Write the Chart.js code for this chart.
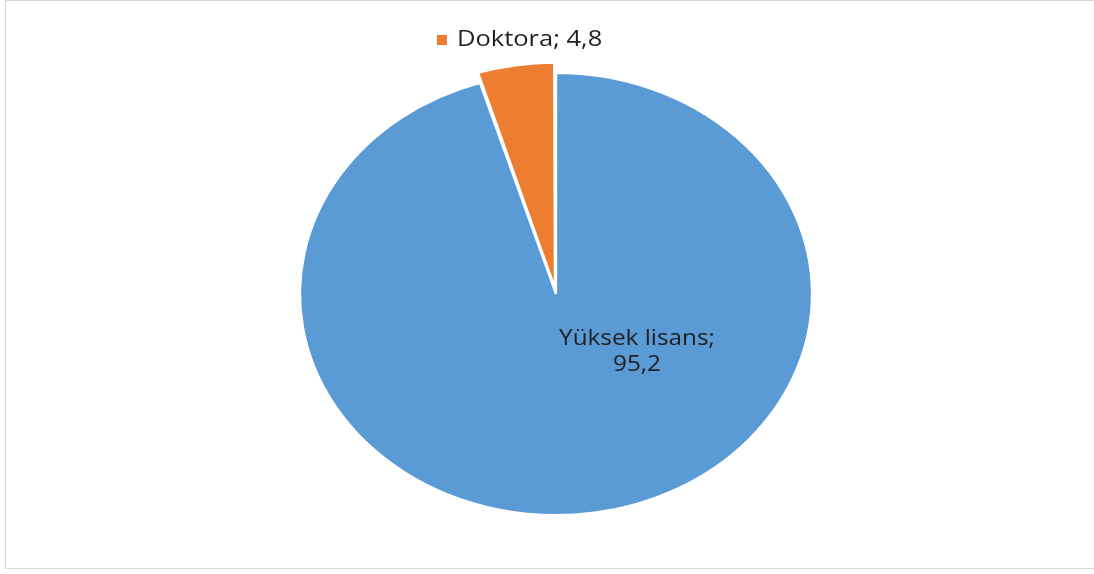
<!DOCTYPE html>
<html>
<head>
<meta charset="utf-8">
<script src="https://cdn.jsdelivr.net/npm/chart.js@4/dist/chart.umd.min.js"></script>
<style>
  html, body { margin: 0; padding: 0; background: #fff; }
  #wrap { position: relative; width: 1094px; height: 574px; }
</style>
</head>
<body>
<div id="wrap"><canvas id="pie" width="1094" height="574"></canvas></div>
<script>
// chart data
const categories = ["Yüksek lisans", "Doktora"]
const values = [95.2, 4.8]
const sliceColors = ["#5B9BD5", "#ED7D31"]
const explode = [0, 24]

// the whole reference is stretched sideways (pie wider than tall, text too)
const RADIUS = 221
const STRETCH_X = 256 / RADIUS
const FONT = "'Open Sans'"

const fmt = v => String(v).replace(".", ",")

const squash = {
  id: "squash",
  beforeDatasetsDraw(chart) {
    const arc = chart.getDatasetMeta(0).data[0]
    const ctx = chart.ctx
    ctx.save()
    ctx.translate(arc.x, arc.y)
    ctx.scale(STRETCH_X, 1)
    ctx.translate(-arc.x, -arc.y)
  },
  afterDatasetsDraw(chart) {
    chart.ctx.restore()
  }
}

const frame = {
  id: "frame",
  beforeDraw(chart) {
    const ctx = chart.ctx
    ctx.save()
    ctx.strokeStyle = "#d9d9d9"
    ctx.lineWidth = 1
    ctx.strokeRect(5.5, 0.5, 1100, 568)
    ctx.restore()
  }
}

function wideText(ctx, text, x, y, align) {
  ctx.save()
  ctx.translate(x, y)
  ctx.scale(STRETCH_X, 1)
  ctx.textAlign = align
  ctx.fillText(text, 0, 0)
  ctx.restore()
}

const sliceLabels = {
  id: "sliceLabels",
  afterDraw(chart) {
    const ctx = chart.ctx
    const meta = chart.getDatasetMeta(0)
    const cx = meta.data[0].x
    const cy = meta.data[0].y
    ctx.save()
    ctx.fillStyle = "#1f1f1f"
    ctx.textBaseline = "middle"

    // big slice: label inside
    ctx.font = "21px " + FONT
    wideText(ctx, categories[0] + ";", cx + 81, cy + 45, "center")
    wideText(ctx, fmt(values[0]), cx + 81, cy + 71, "center")

    // small slice: label above with legend key
    ctx.fillStyle = sliceColors[1]
    ctx.fillRect(cx - 119, cy - 259, 10, 10)
    ctx.fillStyle = "#1f1f1f"
    ctx.font = "22px " + FONT
    wideText(ctx, categories[1] + "; " + fmt(values[1]), cx - 99, cy - 254, "left")
    ctx.restore()
  }
}

new Chart(document.getElementById("pie").getContext("2d"), {
  type: "pie",
  data: {
    labels: categories,
    datasets: [{
      data: values,
      backgroundColor: sliceColors,
      borderColor: "#ffffff",
      borderWidth: 2,
      offset: explode
    }]
  },
  options: {
    responsive: false,
    animation: false,
    events: [],
    radius: RADIUS,
    layout: { padding: { left: 18, right: 0, top: 14, bottom: 0 } },
    plugins: {
      legend: { display: false },
      tooltip: { enabled: false }
    }
  },
  plugins: [frame, squash, sliceLabels]
})
</script>
</body>
</html>
